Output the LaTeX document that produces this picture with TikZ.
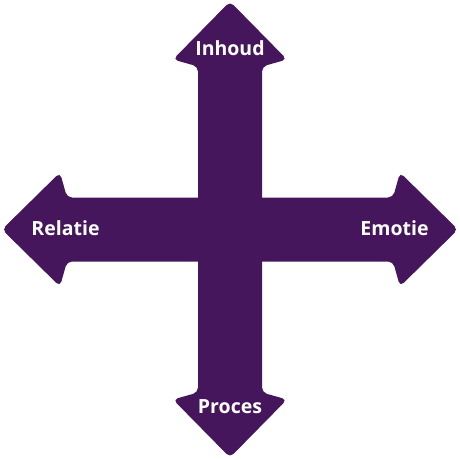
\documentclass[tikz,border=0pt]{standalone}
\usepackage{fontspec}
\setmainfont{Open Sans}
\usepackage{tikz}

\definecolor{kruispaars}{RGB}{69,22,92}
\tikzset{
  pijl/.style={fill=kruispaars, rounded corners=5pt},
  pijltekst/.style={text=white, anchor=base, inner sep=0pt,
    font=\bfseries\fontsize{19.5}{21}\selectfont}
}

\begin{document}
\begin{tikzpicture}[x=1pt,y=-1pt]
  \useasboundingbox (0,0) rectangle (460,460);

  \fill[pijl] (2,229.5)
  -- (60,172.5)
  -- (67,197.5)
  -- (393,197.5)
  -- (400,172.5)
  -- (458,229.5)
  -- (400,286.5)
  -- (393,261.5)
  -- (67,261.5)
  -- (60,286.5)
  -- cycle;

  \fill[pijl] (230,1.5)
  -- (287,59.5)
  -- (262,66.5)
  -- (262,392.5)
  -- (287,399.5)
  -- (230,457.5)
  -- (173,399.5)
  -- (198,392.5)
  -- (198,66.5)
  -- (173,59.5)
  -- cycle;

  \node[pijltekst] (inhoud) at (230,56) {Inhoud};
  \node[pijltekst] (relatie) at (65.5,235) {Relatie};
  \node[pijltekst] (emotie) at (394.5,235) {Emotie};
  \node[pijltekst] (proces) at (230,413) {Proces};
\end{tikzpicture}
\end{document}
